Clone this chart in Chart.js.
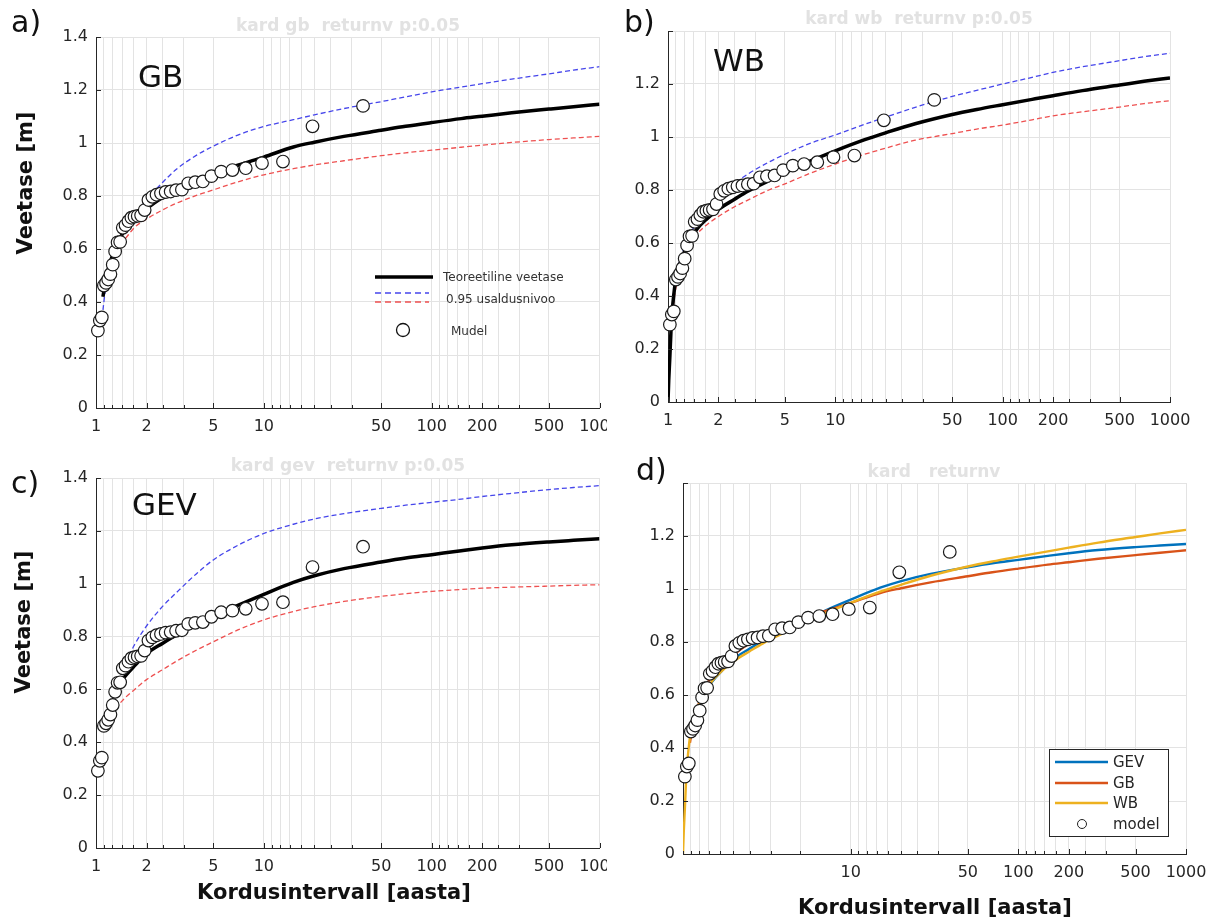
<!DOCTYPE html>
<html>
<head>
<meta charset="utf-8">
<title>Kordusintervall</title>
<script src="https://cdn.jsdelivr.net/npm/chart.js@4.4.1/dist/chart.umd.min.js"></script>
<style>
  html, body { margin: 0; padding: 0; background: #fff; }
  #page { position: relative; width: 1210px; height: 919px; overflow: hidden; background: #fff;
          font-family: "DejaVu Sans", sans-serif; color: #111; }
  #page canvas { position: absolute; }
  .t { position: absolute; white-space: pre; line-height: 1; }
  .panel { font-size: 30px; transform: translateY(-50%); }
  .big { font-size: 31px; transform: translateY(-50%); }
  .ttl { font-size: 17px; font-weight: bold; color: #e2e2e2; transform: translate(-50%, -50%); }
  .xt { font-size: 21px; font-weight: bold; transform: translate(-50%, -50%); }
  .yt { font-size: 21px; font-weight: bold; transform: translate(-50%, -50%) rotate(-90deg); }
  .lg { font-size: 12px; color: #333; transform: translateY(-50%); }
  .lgd { font-size: 15px; color: #262626; transform: translateY(-50%); }
  #swatches { position: absolute; left: 0; top: 0; pointer-events: none; }
</style>
</head>
<body>
<div id="page">
  <canvas id="pa" width="607" height="440" style="left:0;top:0"></canvas>
  <canvas id="pb" width="603" height="440" style="left:607px;top:0"></canvas>
  <canvas id="pc" width="607" height="479" style="left:0;top:440px"></canvas>
  <canvas id="pd" width="603" height="479" style="left:607px;top:440px"></canvas>

  <svg id="swatches" width="1210" height="919">
    <!-- legend a -->
    <line x1="375" y1="277" x2="433" y2="277" stroke="#000" stroke-width="3.5"/>
    <line x1="375" y1="293" x2="429" y2="293" stroke="rgb(70,70,235)" stroke-width="1.3" stroke-dasharray="6 4"/>
    <line x1="375" y1="302" x2="429" y2="302" stroke="rgb(238,80,80)" stroke-width="1.3" stroke-dasharray="6 4"/>
    <circle cx="403" cy="330" r="6.5" fill="#fff" stroke="#111" stroke-width="1.3"/>
    <!-- legend d -->
    <rect x="1049.5" y="749.5" width="119" height="87" fill="#fff" stroke="#262626" stroke-width="1"/>
    <line x1="1055" y1="762" x2="1108" y2="762" stroke="rgb(0,114,189)" stroke-width="2.5"/>
    <line x1="1055" y1="783" x2="1108" y2="783" stroke="rgb(217,83,25)" stroke-width="2.5"/>
    <line x1="1055" y1="803" x2="1108" y2="803" stroke="rgb(237,177,32)" stroke-width="2.5"/>
    <circle cx="1082" cy="824" r="4.5" fill="#fff" stroke="#222" stroke-width="1"/>
  </svg>

  <div class="t panel" style="left:11px;top:22px">a)</div>
  <div class="t panel" style="left:624px;top:22px">b)</div>
  <div class="t panel" style="left:11px;top:483px">c)</div>
  <div class="t panel" style="left:636px;top:470px">d)</div>

  <div class="t big" style="left:138px;top:76px">GB</div>
  <div class="t big" style="left:713px;top:60px">WB</div>
  <div class="t big" style="left:132px;top:504px">GEV</div>

  <div class="t ttl" style="left:348px;top:25px">kard gb  returnv p:0.05</div>
  <div class="t ttl" style="left:919px;top:18px">kard wb  returnv p:0.05</div>
  <div class="t ttl" style="left:348px;top:465px">kard gev  returnv p:0.05</div>
  <div class="t ttl" style="left:934px;top:471px">kard   returnv</div>

  <div class="t yt" style="left:25px;top:183px">Veetase [m]</div>
  <div class="t yt" style="left:23px;top:622px">Veetase [m]</div>
  <div class="t xt" style="left:334px;top:892px">Kordusintervall [aasta]</div>
  <div class="t xt" style="left:935px;top:907px">Kordusintervall [aasta]</div>

  <div class="t lg" style="left:443px;top:277px">Teoreetiline veetase</div>
  <div class="t lg" style="left:446px;top:299px">0.95 usaldusnivoo</div>
  <div class="t lg" style="left:451px;top:331px">Mudel</div>

  <div class="t lgd" style="left:1113px;top:762px">GEV</div>
  <div class="t lgd" style="left:1113px;top:783px">GB</div>
  <div class="t lgd" style="left:1113px;top:803px">WB</div>
  <div class="t lgd" style="left:1113px;top:824px">model</div>
</div>

<script>
// return periods used for the fitted curves
const tGrid = [1.0, 1.01, 1.025, 1.05, 1.075, 1.1, 1.15, 1.2, 1.3, 1.4, 1.5, 1.7, 2, 2.5, 3, 4, 5, 7,
  10, 15, 20, 30, 50, 70, 100, 150, 200, 300, 500, 700, 1000];

// GB fit with 0.95 bounds (panel a)
const gbFit = [null, null, null, null, null, 0.42, 0.49, 0.54, 0.60, 0.645, 0.675, 0.715, 0.752, 0.795, 0.823, 0.86, 0.882, 0.916,
  0.947, 0.985, 1.003, 1.025, 1.048, 1.063, 1.077, 1.092, 1.101, 1.114, 1.128, 1.137, 1.146];
const gbHi = [null, null, null, null, null, 0.37, 0.47, 0.53, 0.60, 0.645, 0.68, 0.728, 0.785, 0.852, 0.90, 0.955, 0.988, 1.03,
  1.062, 1.088, 1.106, 1.13, 1.156, 1.174, 1.193, 1.211, 1.224, 1.241, 1.261, 1.275, 1.288];
const gbLo = [null, null, null, null, null, null, null, null, null, null, 0.64, 0.682, 0.713, 0.748, 0.772, 0.803, 0.823, 0.853,
  0.88, 0.903, 0.917, 0.933, 0.952, 0.963, 0.973, 0.984, 0.992, 1.002, 1.013, 1.019, 1.025];

// WB fit with 0.95 bounds (panel b)
const wbFit = [0, 0.08, 0.165, 0.31, 0.385, 0.44, 0.5, 0.536, 0.59, 0.626, 0.655, 0.69, 0.727, 0.765, 0.795, 0.835, 0.865, 0.908,
  0.948, 0.99, 1.016, 1.05, 1.085, 1.104, 1.122, 1.142, 1.156, 1.175, 1.196, 1.21, 1.223];
const wbHi = [0, 0.085, 0.175, 0.32, 0.40, 0.45, 0.51, 0.55, 0.61, 0.65, 0.68, 0.725, 0.77, 0.825, 0.86, 0.905, 0.935, 0.975,
  1.008, 1.048, 1.075, 1.112, 1.153, 1.176, 1.2, 1.225, 1.244, 1.265, 1.288, 1.303, 1.316];
const wbLo = [0, 0.07, 0.15, 0.29, 0.36, 0.41, 0.47, 0.51, 0.57, 0.608, 0.636, 0.668, 0.70, 0.737, 0.762, 0.80, 0.823, 0.862,
  0.898, 0.935, 0.958, 0.988, 1.013, 1.03, 1.045, 1.065, 1.08, 1.095, 1.113, 1.126, 1.137];

// GEV fit with 0.95 bounds (panel c)
const gevFit = [null, null, null, null, null, null, null, null, 0.59, 0.625, 0.652, 0.69, 0.735, 0.775, 0.805, 0.845, 0.875, 0.918,
  0.96, 1.005, 1.03, 1.057, 1.082, 1.097, 1.11, 1.125, 1.135, 1.147, 1.158, 1.164, 1.17];
const gevHi = [null, null, null, null, null, null, null, null, null, null, 0.70, 0.77, 0.84, 0.915, 0.965, 1.04, 1.09, 1.145,
  1.19, 1.225, 1.245, 1.265, 1.285, 1.297, 1.308, 1.32, 1.33, 1.342, 1.356, 1.364, 1.371];
const gevLo = [null, null, null, null, null, null, null, null, null, 0.55, 0.57, 0.60, 0.637, 0.675, 0.706, 0.75, 0.78, 0.825,
  0.863, 0.895, 0.913, 0.933, 0.952, 0.962, 0.971, 0.978, 0.983, 0.987, 0.991, 0.994, 0.996];

// model (observed) levels and their return periods
const modelT = [1.026, 1.054, 1.083, 1.114, 1.147, 1.182, 1.219, 1.258, 1.3, 1.345, 1.393, 1.444, 1.5, 1.56, 1.625, 1.696,
  1.773, 1.857, 1.95, 2.053, 2.167, 2.294, 2.438, 2.6, 2.786, 3.0, 3.25, 3.545, 3.9, 4.333, 4.875, 5.571, 6.5, 7.8, 9.75, 13, 19.5, 39];
const modelV = [0.292, 0.33, 0.342, 0.462, 0.472, 0.485, 0.505, 0.541, 0.591, 0.625, 0.627, 0.68, 0.69, 0.705, 0.718, 0.722,
  0.725, 0.727, 0.747, 0.785, 0.797, 0.805, 0.81, 0.815, 0.817, 0.822, 0.824, 0.848, 0.852, 0.855, 0.875, 0.892, 0.898, 0.905, 0.924, 0.93, 1.063, 1.14];

// axis ticks
const gridT = [1, 1.111, 1.25, 1.429, 1.667, 2, 2.5, 3.333, 5, 10, 11.11, 12.5, 14.29, 16.67, 20, 25, 33.33, 50,
  100, 111.1, 125, 142.9, 166.7, 200, 250, 333.3, 500, 1000];
const xLabels = [1, 2, 5, 10, 50, 100, 200, 500, 1000];
const xLabelsD = [10, 50, 100, 200, 500, 1000];
const yTicks = [0, 0.2, 0.4, 0.6, 0.8, 1.0, 1.2, 1.4];

const INK = '#262626';
const GRID = '#e3e3e3';
const FONT = { family: 'DejaVu Sans', size: 16 };

const pts = (xs, ys) => xs.map((x, i) => ({ x, y: ys[i] }));

// MATLAB style ticks pointing into the axes
const inwardTicks = {
  id: 'inwardTicks',
  afterDraw(chart) {
    const { ctx, chartArea: a, scales: { x, y } } = chart;
    ctx.save();
    ctx.strokeStyle = INK;
    ctx.lineWidth = 1;
    ctx.beginPath();
    x.ticks.forEach(t => {
      const px = Math.round(x.getPixelForValue(t.value)) + 0.5;
      const len = t.label !== '' ? 5 : 3;
      ctx.moveTo(px, a.bottom);
      ctx.lineTo(px, a.bottom - len);
    });
    y.ticks.forEach(t => {
      const py = Math.round(y.getPixelForValue(t.value)) + 0.5;
      ctx.moveTo(a.left, py);
      ctx.lineTo(a.left + 5, py);
    });
    ctx.stroke();
    ctx.restore();
  }
};

function xScale(height, labels) {
  return {
    type: 'logarithmic', min: 1, max: 1000,
    afterBuildTicks: (ax) => { ax.ticks = gridT.map(v => ({ value: v })); },
    afterFit: (ax) => { ax.height = height; ax.paddingLeft = 0; ax.paddingRight = 0; },
    ticks: {
      autoSkip: false, maxRotation: 0, minRotation: 0, padding: 9, color: INK, font: FONT,
      callback: (v) => labels.includes(v) ? String(v) : ''
    },
    grid: { color: GRID, lineWidth: 1, drawTicks: false },
    border: { display: true, color: INK, width: 1 }
  };
}

function yScale(width, hideTop) {
  return {
    type: 'linear', min: 0, max: 1.4,
    afterBuildTicks: (ax) => { ax.ticks = yTicks.map(v => ({ value: v })); },
    afterFit: (ax) => { ax.width = width; ax.paddingTop = 0; ax.paddingBottom = 0; },
    ticks: {
      padding: 8, color: INK, font: FONT,
      callback: (v) => (hideTop && Math.abs(v - 1.4) < 1e-6) ? '' : String(Number(v.toFixed(1)))
    },
    grid: { color: GRID, lineWidth: 1, drawTicks: false },
    border: { display: true, color: INK, width: 1 }
  };
}

function curve(values, color, width, dash, order) {
  return {
    data: pts(tGrid, values), borderColor: color, borderWidth: width, borderDash: dash || [],
    pointRadius: 0, fill: false, cubicInterpolationMode: 'monotone', order
  };
}

function modelPoints(r) {
  return {
    data: pts(modelT, modelV), showLine: false, pointRadius: r, pointHoverRadius: r,
    pointBackgroundColor: '#fff', pointBorderColor: '#1a1a1a', pointBorderWidth: 1.2,
    clip: false, order: 0
  };
}

function panel(id, datasets, box) {
  new Chart(document.getElementById(id).getContext('2d'), {
    type: 'line',
    data: { datasets },
    options: {
      responsive: false, animation: false, devicePixelRatio: 1, events: [],
      layout: { padding: { left: 0, top: box.top, right: box.right, bottom: 0 } },
      plugins: { legend: { display: false }, tooltip: { enabled: false } },
      scales: { x: xScale(box.xh, box.labels), y: yScale(box.yw, box.hideTop) }
    },
    plugins: [inwardTicks]
  });
}

const BLUE = 'rgb(70,70,235)';
const RED = 'rgb(238,80,80)';

panel('pa', [
  curve(gbHi, BLUE, 1.3, [5, 3], 2),
  curve(gbLo, RED, 1.3, [5, 3], 2),
  curve(gbFit, '#000', 3.5, null, 1),
  modelPoints(6.3)
], { top: 37, right: 7, xh: 32, yw: 96, labels: xLabels, hideTop: false });

panel('pb', [
  curve(wbHi, BLUE, 1.3, [5, 3], 2),
  curve(wbLo, RED, 1.3, [5, 3], 2),
  curve(wbFit, '#000', 3.5, null, 1),
  modelPoints(6.3)
], { top: 31, right: 40, xh: 38, yw: 61, labels: xLabels, hideTop: true });

panel('pc', [
  curve(gevHi, BLUE, 1.3, [5, 3], 2),
  curve(gevLo, RED, 1.3, [5, 3], 2),
  curve(gevFit, '#000', 3.5, null, 1),
  modelPoints(6.3)
], { top: 38, right: 7, xh: 71, yw: 96, labels: xLabels, hideTop: false });

panel('pd', [
  curve(gevFit, 'rgb(0,114,189)', 2.4, null, 3),
  curve(gbFit, 'rgb(217,83,25)', 2.4, null, 2),
  curve(wbFit, 'rgb(237,177,32)', 2.4, null, 1),
  modelPoints(6.3)
], { top: 43, right: 24, xh: 65, yw: 76, labels: xLabelsD, hideTop: true });
</script>
</body>
</html>
